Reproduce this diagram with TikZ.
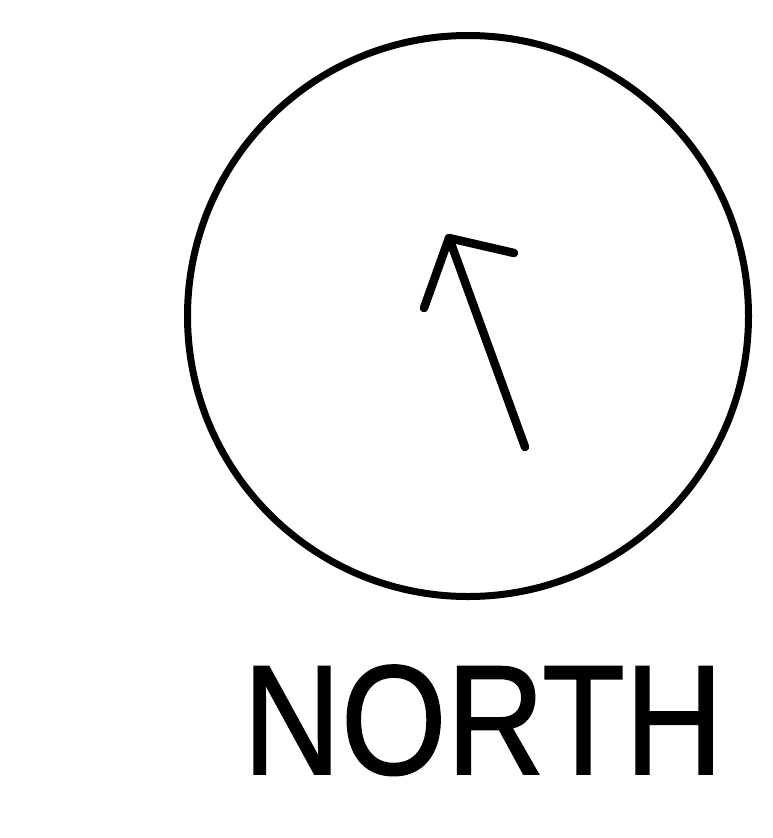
\documentclass[tikz,border=0pt]{standalone}
\usepackage{fontspec}
\setmainfont{Liberation Sans}[FakeBold=1.2]
\begin{document}
\begin{tikzpicture}[x=1pt,y=-1pt,
  ring/.style={draw=black,line width=7pt},
  pointer/.style={draw=black,line width=8.5pt,line cap=round,line join=round},
  label/.style={inner sep=0pt,anchor=base,font=\fontsize{156}{160}\selectfont,xscale=0.87}]
\useasboundingbox (0,0) rectangle (772,838);
\fill[white] (0,0) rectangle (772,838);
\node[ring,circle,minimum size=561pt,inner sep=0pt] (c) at (468,316) {};
\coordinate (tail) at (525,447);
\coordinate (tip) at (449,238);
\coordinate (lb) at (424,308);
\coordinate (rb) at (514,253);
\draw[pointer] (tail) -- (tip);
\draw[pointer] (lb) -- (tip) -- (rb);
\node[label] (t) at (483,774) {NORTH};
\end{tikzpicture}
\end{document}
